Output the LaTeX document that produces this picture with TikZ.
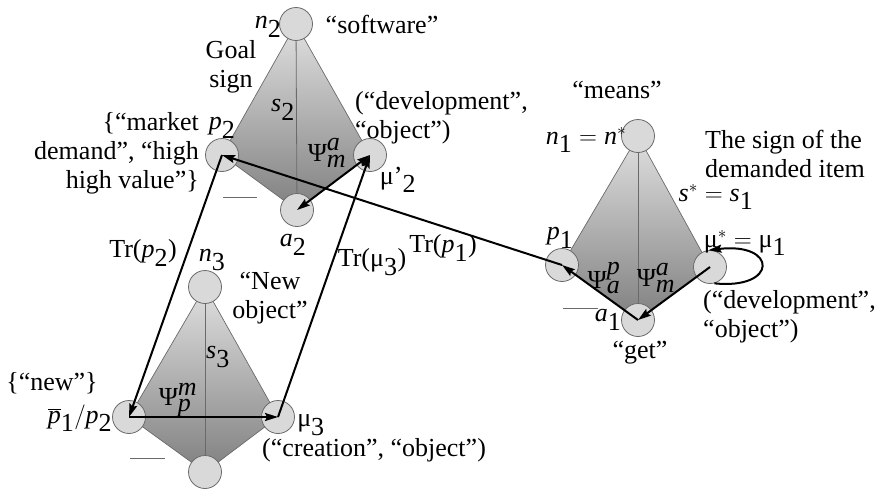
\documentclass[tikz,border=0pt]{standalone}
\usepackage{fontspec}
\setmainfont{Liberation Serif}
\usetikzlibrary{arrows.meta}
\pgfdeclarelayer{bg}
\pgfsetlayers{bg,main}
\newcommand{\mv}[1]{\textit{#1}}
\newcommand{\rn}[1]{\textrm{#1}}
\definecolor{cfill}{HTML}{D9D9D9}
\definecolor{cline}{HTML}{6A6A6A}
\definecolor{ktop}{HTML}{E0E0E0}
\definecolor{kbot}{HTML}{808080}
\begin{document}
\begin{tikzpicture}[x=1pt,y=-1pt,
  vert/.style={circle,draw=cline,fill=cfill,line width=0.8pt,minimum size=33pt,inner sep=0pt},
  kite/.style={top color=ktop,bottom color=kbot,draw=cline,line width=0.7pt},
  axis/.style={draw=cline,line width=0.8pt},
  lbl/.style={inner sep=0pt,font=\fontsize{26}{29}\selectfont},
  arr/.style={line width=2pt,-{Stealth[length=13pt,width=8pt,inset=2pt]}},
  darr/.style={line width=2pt,{Stealth[length=13pt,width=8pt,inset=2pt]}-{Stealth[length=13pt,width=8pt,inset=2pt]}},
  dash line/.style={draw=cline,line width=0.9pt}]
\useasboundingbox (0,0) rectangle (891,490);
% vertices
\node[vert] (n2) at (296,24) {};
\node[vert] (p2) at (222,155) {};
\node[vert] (m2) at (370,155) {};
\node[vert] (a2) at (297,210) {};
\node[vert] (n1) at (638,136) {};
\node[vert] (p1) at (562,265) {};
\node[vert] (m1) at (710,267) {};
\node[vert] (a1) at (638,320) {};
\node[vert] (n3) at (205,287) {};
\node[vert] (p3) at (129,417) {};
\node[vert] (m3) at (278,417) {};
\node[vert] (b3) at (205,472) {};
\begin{pgfonlayer}{bg}
\shade[kite] (n2.center) -- (p2.center) -- (a2.center) -- (m2.center) -- cycle;
\draw[axis] (n2.center) -- (a2.center);
\shade[kite] (n1.center) -- (p1.center) -- (a1.center) -- (m1.center) -- cycle;
\draw[axis] (n1.center) -- (a1.center);
\shade[kite] (n3.center) -- (p3.center) -- (b3.center) -- (m3.center) -- cycle;
\draw[axis] (n3.center) -- (b3.center);
\end{pgfonlayer}
% arrows
\draw[arr] (p1.center) -- (p2.center);
\draw[arr] (a1.center) -- (p1.center);
\draw[arr] (m1.center) -- (a1.center);
\draw[arr] (m1.-75) .. controls (778,290) and (778,242) .. (m1.95);
\draw[darr] (a2.center) -- (m2.center);
\draw[arr] (p2.center) -- (p3.center);
\draw[arr] (p3.center) -- (m3.center);
\draw[arr] (m3.center) -- (m2.center);
% dashes
\draw[dash line] (223,197) -- (257,197);
\draw[dash line] (563,308) -- (598,308);
\draw[dash line] (130,458) -- (165,458);
% labels top
\node[lbl] (ln2) at (268,27) {$\mv{n}_{\rn{2}}$};
\node[lbl] (lsw) at (382,24) {“software”};
\node[lbl,align=center] (lgoal) at (231,67) {Goal\\sign};
\node[lbl,align=left,anchor=west] (ldev2) at (355,118) {(“development”,\\“object”)};
\node[lbl] (ls2) at (283,110) {$\mv{s}_{\rn{2}}$};
\node[lbl] (lp2) at (222,128) {$\mv{p}_{\rn{2}}$};
\node[lbl,align=right,anchor=east] (lmkt) at (199,153) {\{“market\\demand”, “high\\high value”\}};
\node[lbl] (lpsi2) at (327,153) {$\rn{Ψ}^{\mv{a}}_{\mv{m}}$};
\node[lbl] (lm2) at (398,180) {$\rn{μ'}_{\rn{2}}$};
\node[lbl] (la2) at (293,245) {$\mv{a}_{\rn{2}}$};
% middle labels
\node[lbl] (ltrp2) at (143,253) {Tr($\mv{p}_{\rn{2}}$)};
\node[lbl] (ltrp1) at (443,248) {Tr($\mv{p}_{\rn{1}}$)};
\node[lbl] (ltrm3) at (372,262) {Tr(μ$_{\rn{3}}$)};
% bottom labels
\node[lbl] (ln3) at (212,260) {$\mv{n}_{\rn{3}}$};
\node[lbl,align=center] (lnew) at (270,298) {“New\\object”};
\node[lbl] (ls3) at (218,357) {$\mv{s}_{\rn{3}}$};
\node[lbl] (lpsi3) at (178,400) {$\rn{Ψ}^{\mv{m}}_{\mv{p}}$};
\node[lbl] (lnewq) at (52,383) {\{“new”\}};
\node[lbl] (lp3) at (80,418) {$\overline{\mv{p}}_{\rn{1}}/\mv{p}_{\rn{2}}$};
\node[lbl] (lm3) at (311,425) {μ$_{\rn{3}}$};
\node[lbl] (lcre) at (374,450) {(“creation”, “object”)};
% right labels
\node[lbl] (lmeans) at (617,90) {“means”};
\node[lbl] (ln1) at (586,140) {$\mv{n}_{\rn{1}} = \mv{n}^{*}$};
\node[lbl,align=left,anchor=west] (lsign) at (705,154) {The sign of the\\demanded item};
\node[lbl] (ls1) at (716,197) {$\mv{s}^{*} = \mv{s}_{\rn{1}}$};
\node[lbl] (lp1) at (560,238) {$\mv{p}_{\rn{1}}$};
\node[lbl] (lm1) at (745,243) {$\rn{μ}^{*} = \rn{μ}_{\rn{1}}$};
\node[lbl] (lpsipa) at (604,278) {$\rn{Ψ}^{\mv{p}}_{\mv{a}}$};
\node[lbl] (lpsima) at (656,278) {$\rn{Ψ}^{\mv{a}}_{\mv{m}}$};
\node[lbl] (la1) at (608,320) {$\mv{a}_{\rn{1}}$};
\node[lbl] (lget) at (640,353) {“get”};
\node[lbl,align=left,anchor=west] (ldev1) at (703,317) {(“development”,\\“object”)};
\end{tikzpicture}
\end{document}
